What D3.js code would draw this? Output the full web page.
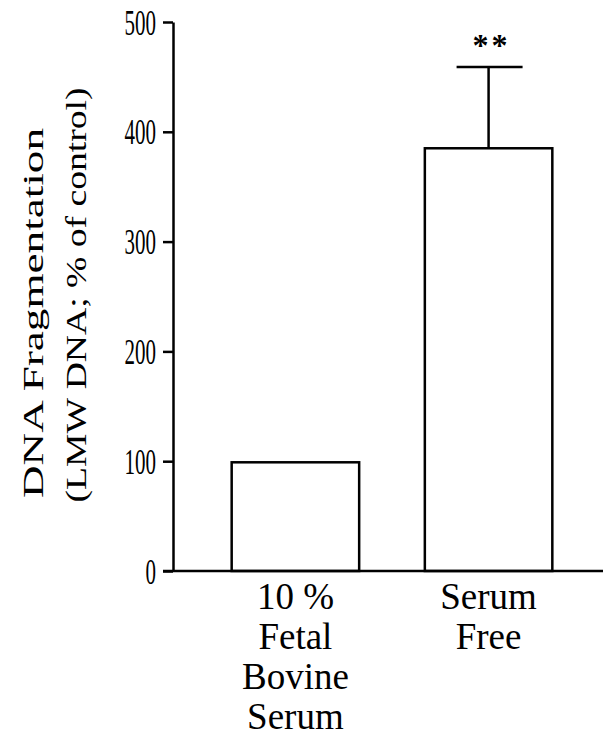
<!DOCTYPE html>
<html>
<head>
<meta charset="utf-8">
<script src="https://cdn.jsdelivr.net/npm/d3@7"></script>
<style>
  body { margin: 0; background: #fff; }
  svg { display: block; }
  text { font-family: "Liberation Serif", "Times New Roman", serif; }
</style>
</head>
<body>
<div id="chart"></div>
<script>
// data
const categories = ["FBS", "SF"];
const categoryLines = [["10 %", "Fetal", "Bovine", "Serum"], ["Serum", "Free"]];
const means = [99, 385];
const errors = [0, 74];
const marks = ["", "**"];
const yTicks = [0, 100, 200, 300, 400, 500];

const width = 603;
const height = 742;
const serif = "Liberation Serif";

const svg = d3
  .select("#chart")
  .append("svg")
  .attr("width", width)
  .attr("height", height);

const yScale = d3.scaleLinear().domain([0, 500]).range([571, 22]);

const xScale = d3
  .scaleBand()
  .domain(categories)
  .range([166, 618])
  .paddingInner(0.34)
  .paddingOuter(0.34);

const axisX = 173;

// bars
svg
  .selectAll(".bar")
  .data(categories)
  .enter()
  .append("rect")
  .attr("class", "bar")
  .attr("x", (d) => xScale(d))
  .attr("y", (d, i) => yScale(means[i]))
  .attr("width", xScale.bandwidth())
  .attr("height", (d, i) => yScale(0) - yScale(means[i]))
  .attr("fill", "#fff")
  .attr("stroke", "#000")
  .attr("stroke-width", 2.5);

// error bars (upper only)
const errG = svg
  .selectAll(".err")
  .data(categories.filter((d, i) => errors[i] > 0))
  .enter()
  .append("g")
  .attr("class", "err");

const errTop = (d) => {
  const i = categories.indexOf(d);
  return yScale(means[i] + errors[i]);
};
const mid = (d) => xScale(d) + xScale.bandwidth() / 2;

errG
  .append("line")
  .attr("x1", mid)
  .attr("x2", mid)
  .attr("y1", (d) => yScale(means[categories.indexOf(d)]))
  .attr("y2", errTop)
  .attr("stroke", "#000")
  .attr("stroke-width", 2.5);

errG
  .append("line")
  .attr("x1", (d) => mid(d) - 32)
  .attr("x2", (d) => mid(d) + 34)
  .attr("y1", errTop)
  .attr("y2", errTop)
  .attr("stroke", "#000")
  .attr("stroke-width", 2.5);

// significance marks
svg
  .selectAll(".mark")
  .data(categories)
  .enter()
  .append("text")
  .attr("class", "mark")
  .attr("x", (d) => mid(d) + 3)
  .attr("y", (d, i) => yScale(means[i] + errors[i]) - 11)
  .attr("text-anchor", "middle")
  .attr("font-family", serif)
  .attr("font-weight", "bold")
  .attr("font-size", 32)
  .attr("letter-spacing", 3)
  .text((d, i) => marks[i]);

// y axis
const yAxis = svg
  .append("g")
  .attr("class", "y-axis")
  .attr("transform", `translate(${axisX},0)`)
  .call(d3.axisLeft(yScale).tickValues(yTicks).tickSize(10).tickSizeOuter(0));

yAxis.attr("font-family", serif);
yAxis.selectAll("path, line").attr("stroke", "#000").attr("stroke-width", 2.5);
yAxis
  .selectAll("text")
  .attr("x", null)
  .attr("dy", null)
  .attr("transform", "translate(-17,12) scale(1,1.75)")
  .attr("font-family", serif)
  .attr("font-size", 21)
  .attr("fill", "#000");

// x axis baseline
svg
  .append("line")
  .attr("x1", 163)
  .attr("x2", width)
  .attr("y1", yScale(0))
  .attr("y2", yScale(0))
  .attr("stroke", "#000")
  .attr("stroke-width", 2.5);

// category labels
svg
  .selectAll(".cat")
  .data(categories)
  .enter()
  .append("text")
  .attr("class", "cat")
  .attr("text-anchor", "middle")
  .attr("font-family", serif)
  .attr("font-size", 37)
  .each(function (d, i) {
    d3.select(this)
      .selectAll("tspan")
      .data(categoryLines[i])
      .enter()
      .append("tspan")
      .attr("x", mid(d))
      .attr("y", (t, j) => 609 + j * 40)
      .text((t) => t);
  });

// y axis title
svg
  .append("text")
  .attr("transform", "translate(43,313) rotate(-90)")
  .attr("text-anchor", "middle")
  .attr("textLength", 370)
  .attr("lengthAdjust", "spacingAndGlyphs")
  .attr("font-family", serif)
  .attr("font-size", 30)
  .text("DNA Fragmentation");

svg
  .append("text")
  .attr("transform", "translate(86,295) rotate(-90)")
  .attr("text-anchor", "middle")
  .attr("textLength", 415)
  .attr("lengthAdjust", "spacingAndGlyphs")
  .attr("font-family", serif)
  .attr("font-size", 30)
  .text("(LMW DNA; % of control)");
</script>
</body>
</html>
